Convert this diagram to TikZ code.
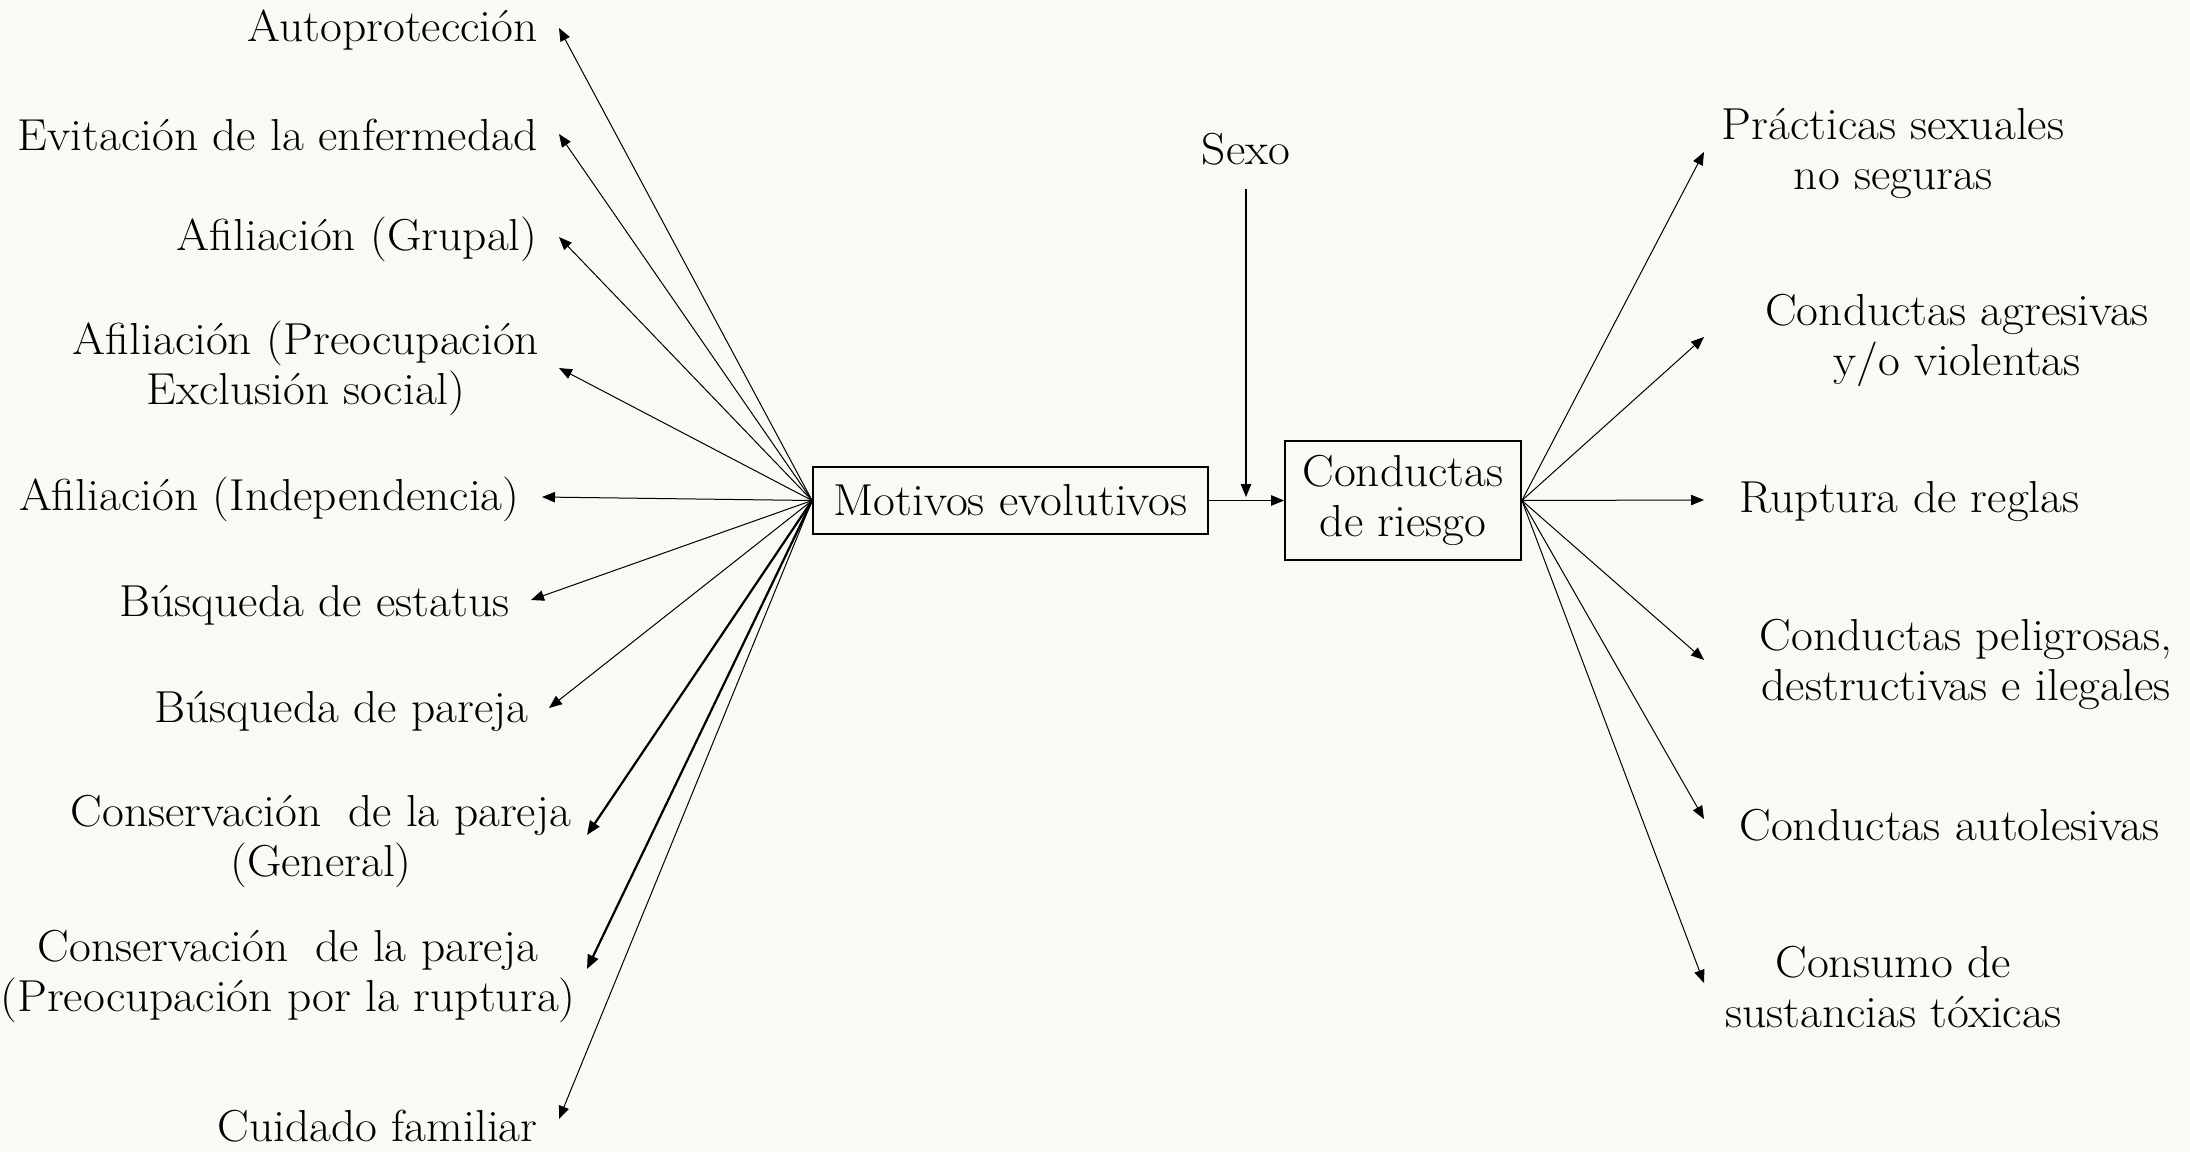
\documentclass[tikz,border=0pt]{standalone}
\usepackage{fontspec}
\setmainfont{Latin Modern Roman}[FakeStretch=1.06]
\usetikzlibrary{arrows.meta}
\definecolor{paper}{RGB}{251,249,245}
\begin{document}
\begin{tikzpicture}[x=0.5pt,y=-0.5pt,
  every node/.style={font=\fontsize{22.4}{25}\selectfont, inner sep=0pt},
  lbl/.style={align=center},
  boxnode/.style={draw, line width=0.9pt, align=center},
  arr/.style={-{Triangle[length=6.5pt,width=5.2pt]}, line width=0.5pt},
  arrthick/.style={-{Triangle[length=7pt,width=5.6pt]}, line width=1.1pt}]
\fill[paper] (0,0) rectangle (2190,1152);
\useasboundingbox (0,0) rectangle (2190,1152);

% central boxes
\node[boxnode, minimum width=197.5pt, minimum height=33.5pt] (mot) at (1010.5,500.5) {Motivos evolutivos};
\node[boxnode, minimum width=118pt, minimum height=59.5pt] (cond) at (1403,500.5) {Conductas\\de riesgo};
\node (sexo) at (1246,149) {Sexo};
\coordinate (sexotip) at (1246,497);

% left labels
\node[anchor=east] (l1) at (538,30) {Autoprotección};
\node[anchor=east] (l2) at (538,135) {Evitación de la enfermedad};
\node[anchor=east] (l3) at (538,239) {Afiliación (Grupal)};
\node[lbl] (l4) at (306,368) {Afiliación (Preocupación\\Exclusión social)};
\node[anchor=east] (l5) at (520,499) {Afiliación (Independencia)};
\node[anchor=east] (l6) at (510,605) {Búsqueda de estatus};
\node[anchor=east] (l7) at (529,711) {Búsqueda de pareja};
\node[lbl] (l8) at (321,841) {Conservación\hspace{0.6em}de la pareja\\(General)};
\node[lbl] (l9) at (288,976) {Conservación\hspace{0.6em}de la pareja\\(Preocupación por la ruptura)};
\node[anchor=east] (l10) at (538,1126) {Cuidado familiar};

% right labels
\node[lbl] (r1) at (1893,153) {Prácticas sexuales\\no seguras};
\node[lbl] (r2) at (1957,340) {Conductas agresivas\\y/o violentas};
\node[anchor=west] (r3) at (1739,502) {Ruptura de reglas};
\node[lbl] (r4) at (1966,664) {Conductas peligrosas,\\destructivas e ilegales};
\node[anchor=west] (r5) at (1739,825) {Conductas autolesivas};
\node[lbl] (r6) at (1893,987) {Consumo de\\sustancias tóxicas};

% arrow tips
\coordinate (t1) at (559,28);
\coordinate (t2) at (559,134);
\coordinate (t3) at (559,237);
\coordinate (t4) at (559,368);
\coordinate (t5) at (542,497);
\coordinate (t6) at (531,600);
\coordinate (t7) at (549,708);
\coordinate (t8) at (587,835);
\coordinate (t9) at (587,969);
\coordinate (t10) at (559,1119);

\coordinate (u1) at (1704,152);
\coordinate (u2) at (1704,337);
\coordinate (u3) at (1704,500);
\coordinate (u4) at (1704,660);
\coordinate (u5) at (1704,819);
\coordinate (u6) at (1704,983);

% connectors
\foreach \t in {t1,t2,t3,t4,t5,t6,t7,t10}
  \draw[arr] (mot.west) -- (\t);
\draw[arrthick] (mot.west) -- (t8);
\draw[arrthick] (mot.west) -- (t9);
\foreach \u in {u1,u2,u3,u4,u5,u6}
  \draw[arr] (cond.east) -- (\u);
\draw[arr, line width=0.7pt] (mot.east) -- (cond.west);
\draw[arr, line width=0.7pt, shorten <=12pt] (sexo.south) -- (sexotip);
\end{tikzpicture}
\end{document}
